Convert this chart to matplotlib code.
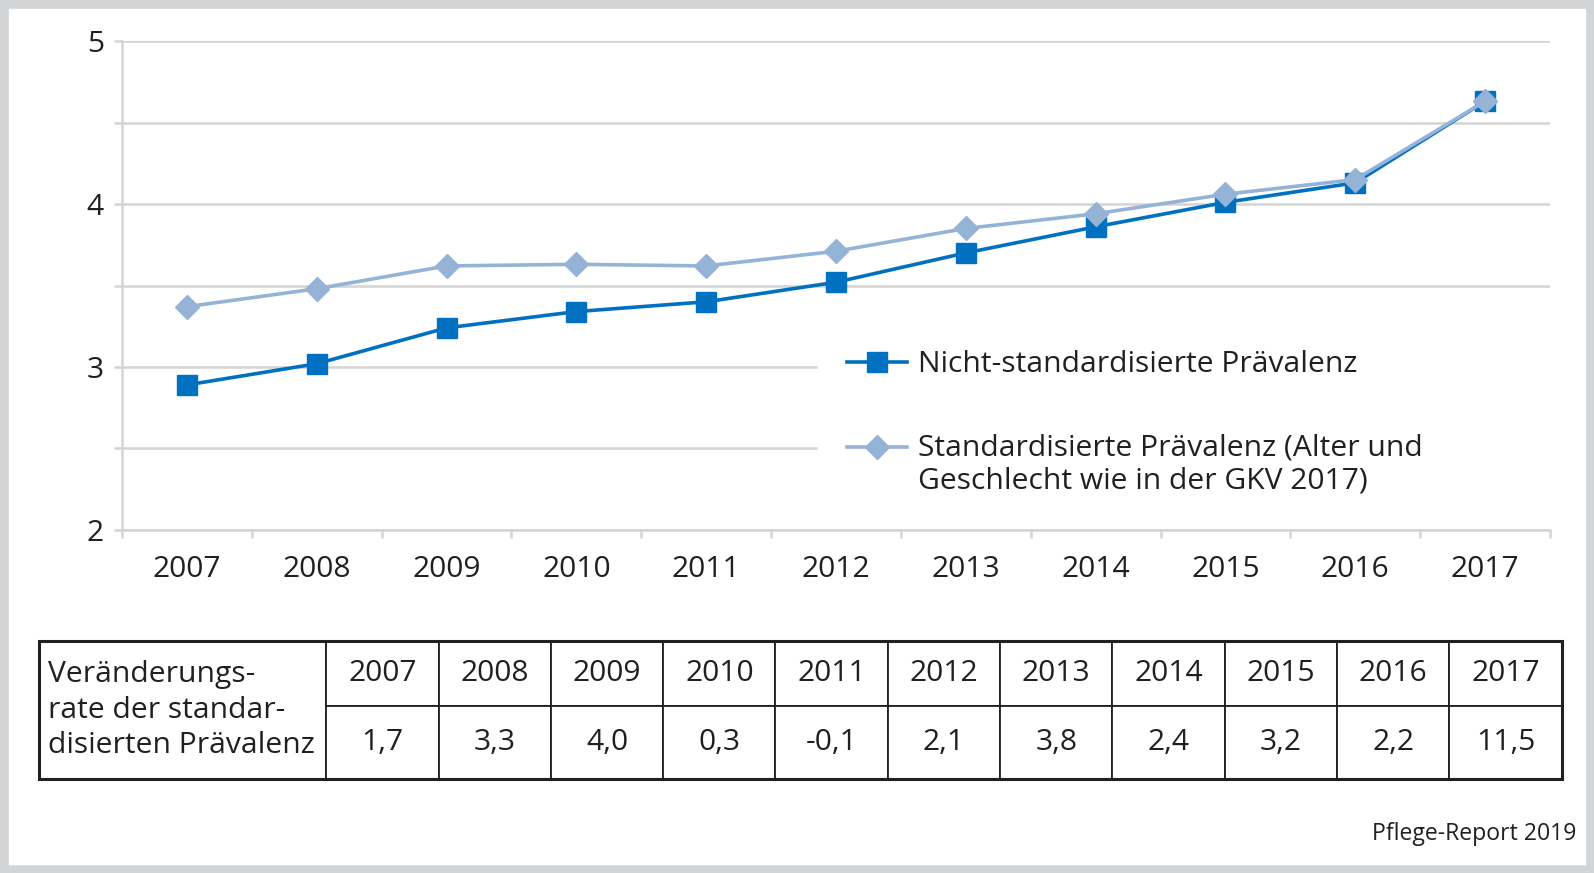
import matplotlib
matplotlib.use("Agg")
from matplotlib import pyplot as plt
from matplotlib.legend_handler import HandlerLine2D
from matplotlib.patches import Rectangle
from matplotlib.transforms import Affine2D
import numpy as np

plt.rcParams["font.family"] = ["Open Sans", "DejaVu Sans"]

years = ["2007", "2008", "2009", "2010", "2011", "2012",
         "2013", "2014", "2015", "2016", "2017"]
nicht_std = [2.89, 3.02, 3.24, 3.34, 3.40, 3.52, 3.70, 3.86, 4.01, 4.13, 4.63]
std = [3.37, 3.48, 3.62, 3.63, 3.62, 3.71, 3.85, 3.94, 4.06, 4.15, 4.63]
rates = ["1,7", "3,3", "4,0", "0,3", "-0,1", "2,1", "3,8", "2,4", "3,2", "2,2", "11,5"]

label_nicht = "Nicht-standardisierte Prävalenz"
label_std = "Standardisierte Prävalenz (Alter und\nGeschlecht wie in der GKV 2017)"
table_label = "Veränderungs-\nrate der standar-\ndisierten Prävalenz"
source = "Pflege-Report 2019"

DARK = "#0070c0"
LIGHT = "#95b3d7"
GRID = "#d4d4d4"
TXT = "#231f20"
FS = 21.6

W, H = 1594, 873


class RaisedHandler(HandlerLine2D):
    # move the legend handle up to the first text line
    def __init__(self, shift, **kw):
        super().__init__(**kw)
        self.shift = shift

    def create_artists(self, legend, orig_handle, xdescent, ydescent,
                       width, height, fontsize, trans):
        arts = super().create_artists(legend, orig_handle, xdescent, ydescent,
                                      width, height, fontsize, trans)
        for a in arts:
            a.set_transform(a.get_transform() + Affine2D().translate(0, self.shift))
        return arts


fig = plt.figure(figsize=(W / 100, H / 100), dpi=100)
fig.patches.append(Rectangle((0, 0), 1, 1, transform=fig.transFigure,
                             facecolor="white", edgecolor="#d3d4d6",
                             linewidth=12, zorder=-1))

ax = fig.add_axes([122 / W, 1 - 530 / H, (1550 - 122) / W, (530 - 41) / H])
x = np.arange(len(years))

ax.plot(x, nicht_std, color=DARK, linewidth=2.6, marker="s",
        markersize=15, label=label_nicht, zorder=3)
ax.plot(x, std, color=LIGHT, linewidth=2.6, marker="D",
        markersize=12, label=label_std, zorder=4)

ax.set_xlim(-0.5, len(years) - 0.5)
ax.set_ylim(2, 5)

ax.set_yticks([2, 3, 4, 5])
ax.set_yticks([2.5, 3.5, 4.5], minor=True)
ax.set_xticks(x)
ax.set_xticklabels(years)
ax.set_xticks(np.arange(-0.5, len(years), 1.0), minor=True)

ax.grid(axis="y", which="both", color=GRID, linewidth=1.8)
ax.set_axisbelow(True)
for s in ["top", "right"]:
    ax.spines[s].set_visible(False)
ax.spines["left"].set_color(GRID)
ax.spines["left"].set_linewidth(1.8)
ax.spines["bottom"].set_color(GRID)
ax.spines["bottom"].set_linewidth(1.8)

ax.tick_params(axis="y", which="both", direction="out", length=6,
               width=1.8, color=GRID, labelsize=FS, labelcolor=TXT, pad=7)
ax.tick_params(axis="x", which="major", length=0, labelsize=FS,
               labelcolor=TXT, pad=18)
ax.tick_params(axis="x", which="minor", direction="out", length=6,
               width=1.8, color=GRID)

h1, h2 = ax.get_legend_handles_labels()[0]
leg = ax.legend([h1, h2], [label_nicht, label_std],
                loc="upper left",
                bbox_to_anchor=(818 / W, 1 - 322 / H, (1550 - 818) / W, 0),
                bbox_transform=fig.transFigure, mode="expand",
                fontsize=FS, frameon=True, fancybox=False,
                facecolor="white", edgecolor="white", framealpha=1,
                borderpad=0.95, handlelength=2.0, handletextpad=0.4,
                labelspacing=1.8, borderaxespad=0,
                handler_map={h2: RaisedHandler(18)})
for t in leg.get_texts():
    t.set_color(TXT)
    t.set_linespacing(1.2)

# table below the chart
tab = fig.add_axes([38.6 / W, 1 - 779 / H, 1523 / W, 138 / H])
tab.axis("off")
cell_text = [[""] + years, [""] + rates]
col_w = [0.1889] + [(1 - 0.1889) / len(years)] * len(years)
tbl = tab.table(cellText=cell_text, colWidths=col_w, bbox=[0, 0, 1, 1],
                cellLoc="center")
tbl.auto_set_font_size(False)
tbl.set_fontsize(FS)
for (r, c), cell in tbl.get_celld().items():
    cell.set_linewidth(1.3)
    cell.set_edgecolor(TXT)
    cell.get_text().set_color(TXT)
    cell.set_height(0.47 if r == 0 else 0.53)
    if c == 0:
        cell.visible_edges = "LTR" if r == 0 else "LBR"
tab.add_patch(Rectangle((0, 0), 1, 1, transform=tab.transAxes, fill=False,
                        linewidth=2.2, edgecolor=TXT, clip_on=False))
tab.text(0.0062, 0.50, table_label, transform=tab.transAxes, ha="left",
         va="center", fontsize=FS, color=TXT, linespacing=1.3)

fig.text(1576 / W, 1 - 834 / H, source, ha="right", va="center",
         fontsize=16.6, color=TXT)

plt.savefig("out.png", dpi=100)
